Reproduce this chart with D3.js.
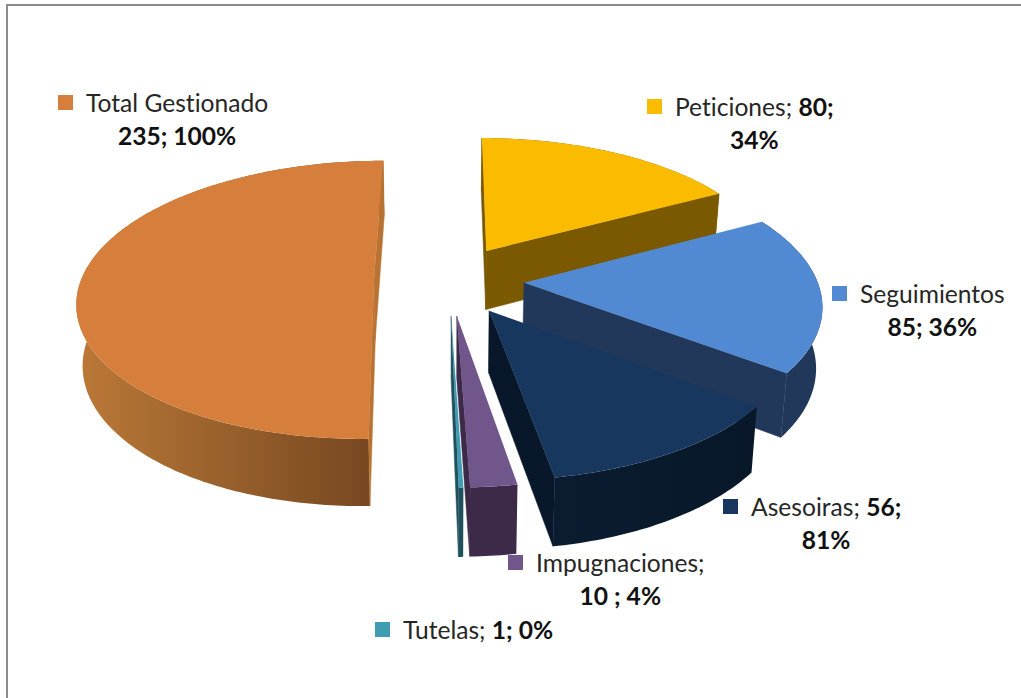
<!DOCTYPE html>
<html>
<head>
<meta charset="utf-8">
<script src="https://cdn.jsdelivr.net/npm/d3@7"></script>
<style>
  body { margin: 0; background: #fff; }
  svg { display: block; }
  text { font-family: Lato, "Open Sans", sans-serif; font-size: 24.6px; fill: #262626; font-variant-ligatures: none; }
  .val { font-weight: 700; fill: #111; }
</style>
</head>
<body>
<svg id="chart" width="1021" height="698"></svg>
<script>
// data, clockwise from the top of the pie
const categories = ["Peticiones", "Seguimientos", "Asesoiras", "Impugnaciones", "Tutelas", "Total Gestionado"];
const values = [80, 85, 56, 10, 1, 235];

// label text as printed on the chart: [plain, bold] on line 1, bold on line 2
const labelPlain = ["Peticiones; ", "Seguimientos", "Asesoiras; ", "Impugnaciones;", "Tutelas; ", "Total Gestionado"];
const labelBold = ["80;", "", "56;", "", "1; 0%", ""];
const labelSecond = ["34%", "85; 36%", "81%", "10 ; 4%", "", "235; 100%"];

// colours
const topColor = ["#fbbc00", "#5289d3", "#17375f", "#71568c", "#3f9cb3", "#d67f3c"];
const cutColor = ["#7a5900", "#22385a", "#08182a", "#3c2a48", "#20505c", "#b87333"];
const wallFrom = ["#7a5900", "#22385a", "#0b1c30", "#3c2a48", "#20505c", "#bb7937"];
const wallTo = ["#7a5900", "#22385a", "#08182a", "#3c2a48", "#20505c", "#744620"];
const legendColor = ["#fbbc00", "#5289d3", "#17375f", "#71568c", "#3f9cb3", "#d67f3c"];

// swatch left, line 1 baseline
const labelX = [647, 832, 723, 508, 375, 58];
const labelY = [116, 303, 516, 572, 639, 112];

// pie geometry
const cx = 449, cy = 280;
const radius = 293, explode = 75;
const tilt = 0.465, persp = 0.14;  // squash of the plane, strength of perspective
const depth = 60, shrink = 0.983;  // thickness, pull of the bottom face to the centre

const svg = d3.select("#chart");
const defs = svg.append("defs");

svg.append("rect")
  .attr("x", 7).attr("y", 5)
  .attr("width", 1100).attr("height", 800)
  .attr("fill", "#fff")
  .attr("stroke", "#8c8c8c")
  .attr("stroke-width", 2);

const rScale = d3.scaleLinear().domain([0, 1]).range([0, radius]);
const line = d3.line().x(d => d[0]).y(d => d[1]);

const pie = d3.pie().sort(null);
const arcs = pie(values);

// plane coords -> screen, top face
function topPt(p, q) {
  const s = 1 / (1 - persp * q / radius);
  return [cx + p * s, cy + q * tilt * s];
}
// plane coords -> screen, bottom face
function botPt(p, q) {
  const s = 1 / (1 - persp * q / radius);
  return [cx + p * s * shrink, cy + q * tilt * s + depth * Math.pow(s, 0.75)];
}

arcs.forEach(function(a, i) {
  const mid = (a.startAngle + a.endAngle) / 2;
  const ox = explode * Math.sin(mid), oy = -explode * Math.cos(mid);
  const rim = t => [ox + rScale(Math.sin(t)), oy - rScale(Math.cos(t))];
  const n = Math.max(2, Math.ceil((a.endAngle - a.startAngle) * 60));
  const angles = d3.range(n + 1).map(k => a.startAngle + (a.endAngle - a.startAngle) * k / n);

  const topRim = angles.map(t => topPt(...rim(t)));
  const botRim = angles.map(t => botPt(...rim(t)));
  const apexTop = topPt(ox, oy), apexBot = botPt(ox, oy);
  const g = svg.append("g").attr("class", "slice");

  // outer wall
  const gradId = "wall" + i;
  const grad = defs.append("linearGradient")
    .attr("id", gradId)
    .attr("gradientUnits", "userSpaceOnUse")
    .attr("x1", d3.min(topRim, d => d[0])).attr("x2", d3.max(topRim, d => d[0]))
    .attr("y1", 0).attr("y2", 0);
  grad.append("stop").attr("offset", 0).attr("stop-color", wallFrom[i]);
  grad.append("stop").attr("offset", 1).attr("stop-color", wallTo[i]);
  g.append("path")
    .attr("d", line(topRim.concat(botRim.slice().reverse())) + "Z")
    .attr("fill", "url(#" + gradId + ")");

  // the two cut faces, only the ones turned to the viewer
  const startFace = [apexTop, topRim[0], botRim[0], apexBot];
  const endFace = [apexTop, topRim[n], botRim[n], apexBot];
  if (d3.polygonArea(startFace) > 0)
    g.append("path").attr("d", line(startFace) + "Z")
      .attr("fill", cutColor[i]).attr("stroke", cutColor[i]).attr("stroke-width", 0.5);
  if (d3.polygonArea(endFace) < 0)
    g.append("path").attr("d", line(endFace) + "Z")
      .attr("fill", cutColor[i]).attr("stroke", cutColor[i]).attr("stroke-width", 0.5);

  // top face
  g.append("path")
    .attr("d", line([apexTop].concat(topRim)) + "Z")
    .attr("fill", topColor[i]);
});

// labels
categories.forEach(function(c, i) {
  const g = svg.append("g").attr("class", "label");
  const x = labelX[i], y = labelY[i];
  g.append("rect")
    .attr("x", x).attr("y", y - 17)
    .attr("width", 15).attr("height", 15)
    .attr("fill", legendColor[i]);
  const first = g.append("text").attr("x", x + 28).attr("y", y);
  first.append("tspan").text(labelPlain[i]);
  if (labelBold[i]) first.append("tspan").attr("class", "val").text(labelBold[i]);
  if (labelSecond[i]) {
    const w = first.node().getComputedTextLength();
    g.append("text")
      .attr("class", "val")
      .attr("x", x + 28 + w / 2)
      .attr("y", y + 33)
      .attr("text-anchor", "middle")
      .text(labelSecond[i]);
  }
});
</script>
</body>
</html>
